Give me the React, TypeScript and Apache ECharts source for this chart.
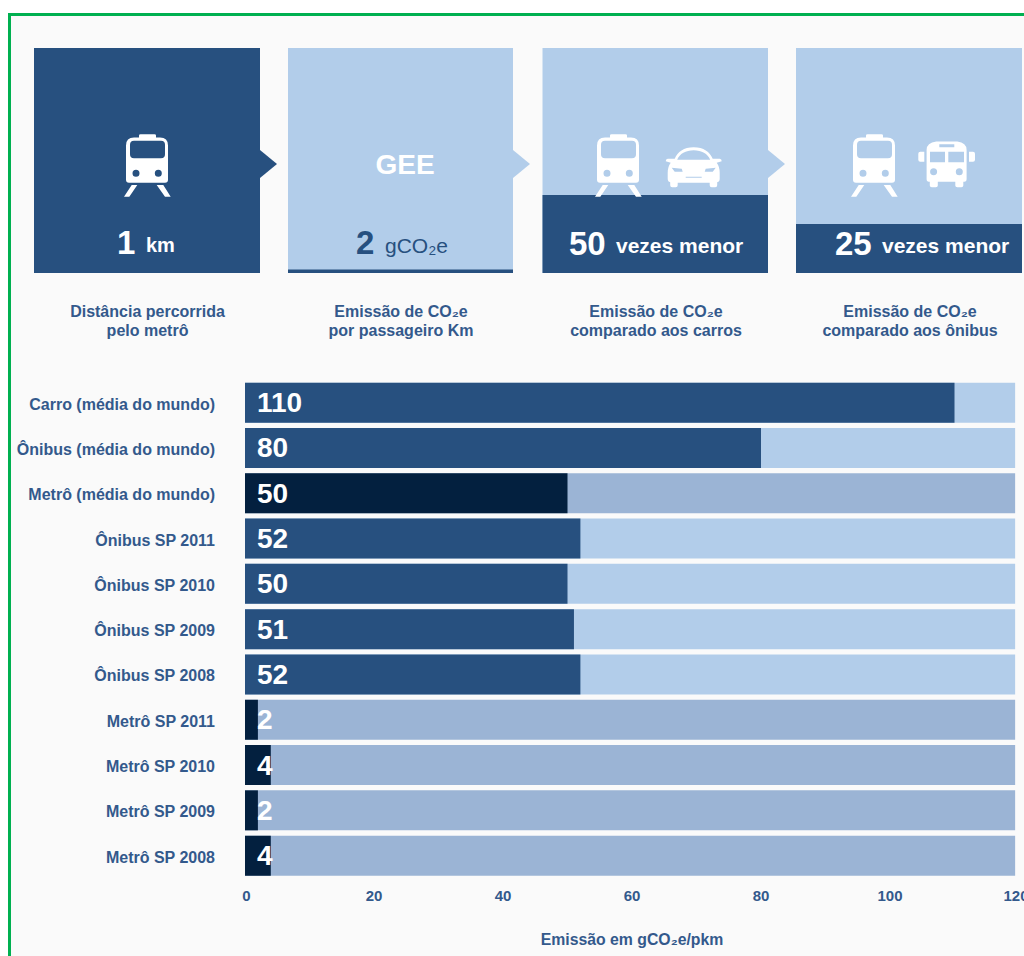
import React, { useEffect, useRef } from "react";
import * as echarts from "echarts";

const categories = [
  "Carro (média do mundo)",
  "Ônibus (média do mundo)",
  "Metrô (média do mundo)",
  "Ônibus SP 2011",
  "Ônibus SP 2010",
  "Ônibus SP 2009",
  "Ônibus SP 2008",
  "Metrô SP 2011",
  "Metrô SP 2010",
  "Metrô SP 2009",
  "Metrô SP 2008",
];
const emissions = [110, 80, 50, 52, 50, 51, 52, 2, 4, 2, 4];
const isMetro = [false, false, true, false, false, false, false, true, true, true, true];
const trackValue = 119.4;
const axisMax = 120;
const axisStep = 20;
const axisTitle = "Emissão em gCO₂e/pkm";

const FONT = '"Liberation Sans", Arial, sans-serif';
const NAVY = "#27507f";
const LIGHT = "#b2cdea";
const INK = "#03203f";
const STEEL = "#9bb4d5";
const LABEL = "#33598c";
const PAGE = "#fafafa";
const GREEN = "#00b050";

const TRAIN =
  "M15 3.5 L15 1.5 Q15 .3 16.5 .3 L30.5 .3 Q32 .3 32 1.5 L32 3.5 L36 3.5 Q44 3.5 44 11.5 L44 45.7 Q44 48.7 41 48.7 L5 48.7 Q2 48.7 2 45.7 L2 11.5 Q2 3.5 10 3.5 Z " +
  "M10 6.7 Q6 6.7 6 10.7 L6 20.3 Q6 24.3 10 24.3 L37 24.3 Q41 24.3 41 20.3 L41 10.7 Q41 6.7 37 6.7 Z " +
  "M8.5 39.3 A3.5 3.5 0 0 0 15.5 39.3 A3.5 3.5 0 0 0 8.5 39.3 Z " +
  "M30.8 39.3 A3.5 3.5 0 0 0 37.8 39.3 A3.5 3.5 0 0 0 30.8 39.3 Z " +
  "M7.7 51 L13.3 51 L5.3 62.7 L0 62.7 Z M32.7 51 L39.3 51 L46.7 62.7 L41 62.7 Z";

const CAR =
  "M9 12 C12 5 18 .5 28 .5 C38 .5 44 5 47 12 L54 12 Q56 12 56 14.5 L51 16 Q54 20 54 26 L54 32 Q54 35 51.5 35.5 L51.5 38.5 Q51.5 40.6 49.5 40.6 L46 40.6 Q44 40.6 44 38.5 L44 36 L12 36 L12 38.5 Q12 40.6 10 40.6 L6.5 40.6 Q4.5 40.6 4.5 38.5 L4.5 35.5 Q2 35 2 32 L2 26 Q2 20 5 16 L0 14.5 Q0 12 2 12 Z " +
  "M11.5 13 L44.5 13 C42 7 36 3.5 28 3.5 C20 3.5 14 7 11.5 13 Z " +
  "M6 21 L9 25 L17 25 L16 22 Z M50 21 L40 22 L39 25 L47 25 Z M20 30 L20 31 L36 31 L36 30 Z";

const BUS =
  "M18 .5 L39 .5 Q48.3 1.5 48.3 9 L48.3 38 Q48.3 40.7 46 40.7 L45 40.7 L45 44.5 Q45 46.3 43 46.3 L39 46.3 Q37 46.3 37 44.5 L37 40.7 L19.5 40.7 L19.5 44.5 Q19.5 46.3 17.5 46.3 L13.5 46.3 Q11.5 46.3 11.5 44.5 L11.5 40.7 L10.5 40.7 Q8.3 40.7 8.3 38 L8.3 9 Q8.3 1.5 18 .5 Z " +
  "M11.7 10.7 L11.7 21.3 L26.7 21.3 L26.7 10.7 Z M30 10.7 L30 21.3 L45.7 21.3 L45.7 10.7 Z " +
  "M21 3.3 L21 6.3 L36 6.3 L36 3.3 Z " +
  "M11.8 30.7 A3.5 3.5 0 0 0 18.8 30.7 A3.5 3.5 0 0 0 11.8 30.7 Z " +
  "M37.5 30.7 A3.5 3.5 0 0 0 44.5 30.7 A3.5 3.5 0 0 0 37.5 30.7 Z " +
  "M2 10.7 L6 10.7 L6 20.7 L2 20.7 Q0 20.7 0 18.7 L0 12.7 Q0 10.7 2 10.7 Z " +
  "M50.7 10.7 L54.7 10.7 Q56.7 10.7 56.7 12.7 L56.7 18.7 Q56.7 20.7 54.7 20.7 L50.7 20.7 Z";

echarts.graphic.registerShape("trainIcon", echarts.graphic.extendPath(TRAIN, {}));
echarts.graphic.registerShape("carIcon", echarts.graphic.extendPath(CAR, {}));
echarts.graphic.registerShape("busIcon", echarts.graphic.extendPath(BUS, {}));

const rect = (x: number, y: number, width: number, height: number, fill: string) => ({
  type: "rect",
  silent: true,
  shape: { x, y, width, height },
  style: { fill },
});

const arrow = (x: number, fill: string) => ({
  type: "polygon",
  silent: true,
  shape: { points: [[x, 150], [x + 17, 164], [x, 178]] },
  style: { fill },
});

const icon = (type: string, x: number, y: number) => ({
  type,
  silent: true,
  x,
  y,
  style: { fill: "#ffffff" },
});

const text = (
  value: string,
  x: number,
  y: number,
  size: number,
  fill: string,
  align = "left",
  weight = "bold",
) => ({
  type: "text",
  silent: true,
  x,
  y,
  style: {
    text: value,
    fill,
    font: `${weight} ${size}px ${FONT}`,
    textAlign: align,
    textVerticalAlign: "middle",
  },
});

const caption = (first: string, second: string, x: number) => [
  text(first, x, 311, 16, LABEL, "center"),
  text(second, x, 330, 16, LABEL, "center"),
];

const graphicElements = [
  // Card behind everything, with its green outline running off the page
  {
    type: "rect",
    silent: true,
    z: -10,
    shape: { x: 9.5, y: 14.5, width: 1100, height: 1100 },
    style: { fill: PAGE, stroke: GREEN, lineWidth: 3 },
  },

  // Panel 1: distance
  rect(34, 48, 226, 225, NAVY),
  arrow(260, NAVY),
  icon("trainIcon", 124, 134),
  text("1", 117, 242, 33, "#ffffff"),
  text("km", 146, 245, 20, "#ffffff"),

  // Panel 2: emission per passenger
  rect(288, 48, 225, 225, LIGHT),
  rect(288, 269.5, 225, 3.5, NAVY),
  arrow(513, LIGHT),
  text("GEE", 405, 164, 28, "#ffffff", "center"),
  text("2", 356, 242, 33, NAVY),
  text("gCO₂e", 385, 245, 21, NAVY, "left", "normal"),

  // Panel 3: compared with cars
  rect(542.5, 48, 225.5, 225, LIGHT),
  rect(542.5, 195, 225.5, 78, NAVY),
  arrow(768, LIGHT),
  icon("trainIcon", 595, 134),
  icon("carIcon", 665.7, 146.7),
  text("50", 569, 243, 33, "#ffffff"),
  text("vezes menor", 616, 245, 21, "#ffffff"),

  // Panel 4: compared with buses
  rect(796, 48, 226, 225, LIGHT),
  rect(796, 224, 226, 49, NAVY),
  icon("trainIcon", 851, 134),
  icon("busIcon", 918.3, 141),
  text("25", 835, 243, 33, "#ffffff"),
  text("vezes menor", 882, 245, 21, "#ffffff"),

  ...caption("Distância percorrida", "pelo metrô", 147.5),
  ...caption("Emissão de CO₂e", "por passageiro Km", 401),
  ...caption("Emissão de CO₂e", "comparado aos carros", 656),
  ...caption("Emissão de CO₂e", "comparado aos ônibus", 910),
];

const tickStyle = { color: LABEL, fontFamily: FONT, fontWeight: "bold", fontSize: 15 };

export default function App() {
  const ref = useRef<HTMLDivElement>(null);

  useEffect(() => {
    const chart = echarts.init(ref.current!, undefined, { renderer: "svg" });
    chart.setOption({
      animation: false,
      backgroundColor: "#ffffff",
      graphic: { elements: graphicElements },
      grid: {
        left: 245,
        top: 380,
        width: 774,
        height: 498.3,
        containLabel: false,
        outerBoundsMode: "none",
      },
      xAxis: {
        type: "value",
        min: 0,
        max: axisMax,
        interval: axisStep,
        name: axisTitle,
        nameLocation: "middle",
        nameGap: 53,
        nameTextStyle: { color: LABEL, fontFamily: FONT, fontWeight: "bold", fontSize: 15.8 },
        axisLine: { show: false },
        axisTick: { show: false },
        splitLine: { show: false },
        axisLabel: {
          ...tickStyle,
          margin: 10,
          // The end labels sit slightly inward of their ticks
          formatter: (v: number) =>
            v === axisMax ? `{end|${v}}` : v === 0 ? `{start|${v}}` : `${v}`,
          rich: {
            end: { ...tickStyle, padding: [0, 6, 0, 0] },
            start: { ...tickStyle, padding: [0, 0, 0, 3] },
          },
        },
      },
      yAxis: {
        type: "category",
        inverse: true,
        data: categories,
        axisLine: { show: false },
        axisTick: { show: false },
        splitLine: { show: false },
        axisLabel: {
          color: LABEL,
          fontFamily: FONT,
          fontWeight: "bold",
          fontSize: 16,
          margin: 30,
          // Top-anchored so the row labels can sit a little below the bar centres
          verticalAlign: "top",
          lineHeight: 16,
          padding: [-6.5, 0, 0, 0],
        },
      },
      series: [
        {
          type: "bar",
          barWidth: 40,
          barGap: "-100%",
          silent: true,
          data: categories.map(() => trackValue),
          itemStyle: {
            color: (p: { dataIndex: number }) => (isMetro[p.dataIndex] ? STEEL : LIGHT),
          },
        },
        {
          type: "bar",
          barWidth: 40,
          barGap: "-100%",
          silent: true,
          data: emissions,
          itemStyle: {
            color: (p: { dataIndex: number }) => (isMetro[p.dataIndex] ? INK : NAVY),
          },
          label: {
            show: true,
            position: [12, "50%"],
            align: "left",
            verticalAlign: "middle",
            color: "#ffffff",
            fontFamily: FONT,
            fontWeight: "bold",
            fontSize: 28,
          },
        },
      ],
    });
    return () => chart.dispose();
  }, []);

  return (
    <div
      ref={ref}
      style={{ position: "fixed", left: 0, top: 0, width: 1024, height: 956, overflow: "hidden" }}
    />
  );
}
